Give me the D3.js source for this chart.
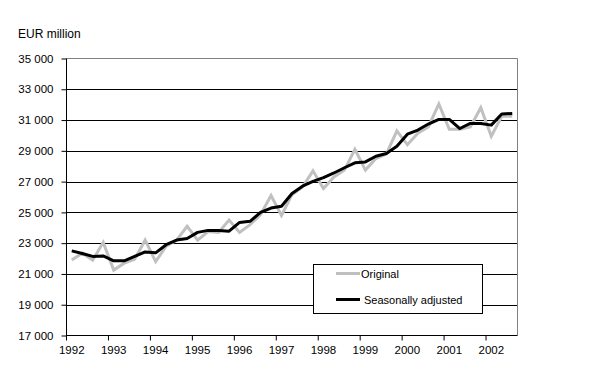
<!DOCTYPE html>
<html><head><meta charset="utf-8">
<script src="https://cdn.jsdelivr.net/npm/d3@7"></script>
<style>
body{margin:0;background:#fff}
svg{display:block}
text{font-family:Arial,"Liberation Sans",sans-serif;fill:#000}
</style>
</head><body>
<svg id="chart" width="606" height="381"></svg>
<script>
// ---- data ----
const years = ["1992","1993","1994","1995","1996","1997","1998","1999","2000","2001","2002"];
const quarterNames = ["Q1","Q2","Q3","Q4"];
const categories = years.flatMap(y => quarterNames.map(q => y + q)).slice(0, 43); // 1992Q1 .. 2002Q3
const original = [21900, 22350, 21900, 23050, 21250, 21700, 21950, 23200, 21800, 22800, 23200, 24100,
  23200, 23750, 23700, 24500, 23700, 24200, 24850, 26100, 24800, 26150, 26650, 27700,
  26550, 27300, 27750, 29100, 27750, 28500, 28800, 30300, 29400, 30150, 30550, 32050,
  30400, 30400, 30550, 31800, 29950, 31250, 31250];
const seasonallyAdjusted = [22500, 22330, 22140, 22170, 21850, 21850, 22140, 22430, 22370, 22900, 23200, 23300,
  23700, 23830, 23830, 23780, 24350, 24420, 25000, 25280, 25400, 26230, 26700, 27020,
  27260, 27560, 27900, 28220, 28280, 28650, 28830, 29300, 30080, 30350, 30740, 31040,
  31040, 30450, 30780, 30780, 30670, 31390, 31430];
const yTicks = [17000, 19000, 21000, 23000, 25000, 27000, 29000, 31000, 33000, 35000];
const seriesNames = ["Original", "Seasonally adjusted"];
const unitLabel = "EUR million";

// ---- layout ----
const svg = d3.select("#chart");
const mLeft = 66.5, mRight = 517.5, mTop = 58.5, mBottom = 335.5;

const x = d3.scaleBand().domain(categories).range([mLeft, mRight]).padding(0);
const y = d3.scaleLinear().domain([17000, 35000]).range([mBottom, mTop]);
const cx = c => x(c) + x.bandwidth() / 2;

// gridlines
svg.append("g").selectAll("line").data(yTicks.filter(v => v > 17000 && v < 35000)).join("line")
  .attr("x1", mLeft).attr("x2", mRight)
  .attr("y1", d => Math.round(y(d)) + 0.5).attr("y2", d => Math.round(y(d)) + 0.5)
  .attr("stroke", "#000").attr("stroke-width", 1);

// plot border top/right (gray)
svg.append("path")
  .attr("d", `M${mLeft},${mTop}H${mRight}V${mBottom}`)
  .attr("fill", "none").attr("stroke", "#808080").attr("stroke-width", 1);

// y axis
const yAxis = d3.axisLeft(y).tickValues(yTicks).tickSizeInner(5).tickSizeOuter(0)
  .tickFormat(d => d3.format(",")(d).replace(/,/g, " "));
const gy = svg.append("g").attr("transform", `translate(${mLeft},0)`).call(yAxis);
gy.selectAll("text").attr("font-size", 11.5).attr("x", -13).attr("font-family", "Arial, 'Liberation Sans', sans-serif");
gy.selectAll("line,path").attr("stroke", "#000");
gy.select(".domain").attr("d", `M0,${mTop}V${mBottom + 0.5}`);

// x axis
const xAxis = d3.axisBottom(x).tickValues(categories.filter((c, i) => i % 4 === 0))
  .tickSizeInner(5).tickSizeOuter(0).tickFormat(c => c.slice(0, 4));
const gx = svg.append("g").attr("transform", `translate(0,${mBottom})`).call(xAxis);
gx.selectAll(".tick line").attr("transform", `translate(${-x.bandwidth() / 2},0)`);
gx.selectAll(".tick text").attr("font-size", 11.5).attr("y", 10)
  .attr("font-family", "Arial, 'Liberation Sans', sans-serif");
gx.selectAll("line,path").attr("stroke", "#000");
gx.select(".domain").attr("d", `M${mLeft},0H${mRight}`);

// lines
const line = d3.line().x((d, i) => cx(categories[i])).y(d => y(d));
svg.append("path").datum(original).attr("d", line)
  .attr("fill", "none").attr("stroke", "#c0c0c0").attr("stroke-width", 3).attr("stroke-linejoin", "miter");
svg.append("path").datum(seasonallyAdjusted).attr("d", line)
  .attr("fill", "none").attr("stroke", "#000").attr("stroke-width", 3).attr("stroke-linejoin", "round");

// unit label
svg.append("text").attr("x", 18).attr("y", 38).attr("font-size", 12).text(unitLabel);

// legend
const lg = svg.append("g");
lg.append("rect").attr("x", 313.5).attr("y", 264.5).attr("width", 169).attr("height", 49)
  .attr("fill", "#fff").attr("stroke", "#000").attr("stroke-width", 1);
const legendColors = ["#c0c0c0", "#000"];
seriesNames.forEach((name, i) => {
  const yy = 273.5 + i * 26;
  lg.append("line").attr("x1", 336).attr("x2", 360).attr("y1", yy).attr("y2", yy)
    .attr("stroke", legendColors[i]).attr("stroke-width", 3);
  lg.append("text").attr("x", 361 + i * 3).attr("y", yy + 4).attr("font-size", 11).text(name);
});
</script>
</body></html>
